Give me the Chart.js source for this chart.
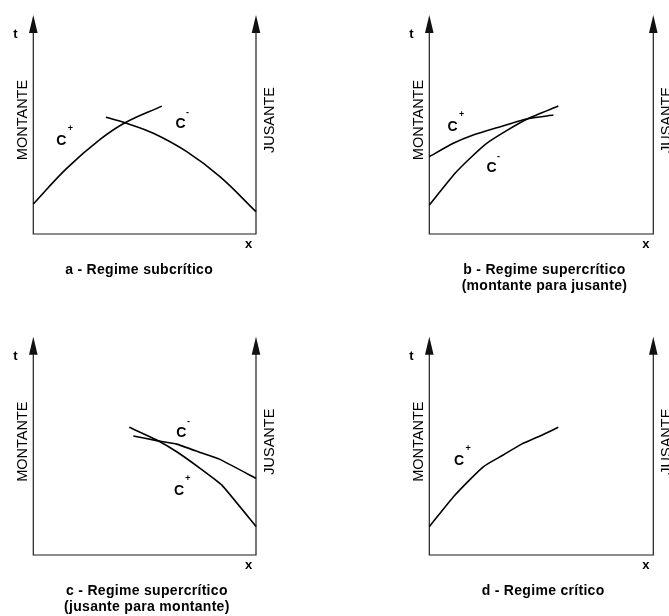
<!DOCTYPE html>
<html>
<head>
<meta charset="utf-8">
<script src="https://cdn.jsdelivr.net/npm/chart.js@4.4.0/dist/chart.umd.min.js"></script>
<style>
  html, body { margin: 0; padding: 0; background: #fff; overflow: hidden; }
  #wrap { position: relative; width: 669px; height: 616px; }
  #wrap canvas { position: absolute; }
</style>
</head>
<body>
<div id="wrap">
  <canvas id="pa" width="334" height="308" style="left:0;top:0"></canvas>
  <canvas id="pb" width="334" height="308" style="left:335px;top:0"></canvas>
  <canvas id="pc" width="334" height="308" style="left:0;top:308px"></canvas>
  <canvas id="pd" width="334" height="308" style="left:335px;top:308px"></canvas>
</div>
<script>
// Characteristic lines in the (x, t) plane; both axes run 0..10 (arbitrary units).
// a - subcritical
const aCplusX  = [0, 1.5, 3.0, 4.12, 5.77];
const aCplusT  = [1.37, 3.0, 4.32, 5.08, 5.84];
const aCminusX = [3.26, 4.12, 5.39, 6.89, 8.38, 10.0];
const aCminusT = [5.33, 5.08, 4.6, 3.76, 2.62, 1.02];
// b - supercritical, upstream to downstream
const bCplusX  = [0, 1.07, 1.96, 3.01, 4.35, 5.54];
const bCplusT  = [3.53, 4.14, 4.52, 4.85, 5.25, 5.43];
const bCminusX = [0, 1.15, 1.82, 2.56, 3.45, 4.35, 5.76];
const bCminusT = [1.32, 2.77, 3.46, 4.14, 4.72, 5.24, 5.84];
// c - supercritical, downstream to upstream
const cCplusX  = [4.31, 5.54, 6.44, 7.49, 8.46, 10.0];
const cCplusT  = [5.85, 5.27, 4.73, 3.97, 3.21, 1.31];
const cCminusX = [4.49, 5.54, 6.44, 7.49, 8.38, 10.0];
const cCminusT = [5.45, 5.24, 5.08, 4.70, 4.38, 3.51];
// d - critical
const dCplusX  = [0, 1.15, 2.41, 3.3, 4.12, 4.94, 5.76];
const dCplusT  = [1.30, 2.75, 4.04, 4.58, 5.08, 5.45, 5.85];

const FONT = '"Liberation Sans", Arial, Helvetica, sans-serif';

function pts(xs, ts) { return xs.map((v, i) => ({ x: v, y: ts[i] })); }

// Draws the boundary axes with arrows, the side labels, curve labels and caption.
const framePlugin = {
  id: 'frame',
  beforeDatasetsDraw(chart, args, o) {
    const { ctx, scales: { x, y } } = chart;
    const x0 = x.getPixelForValue(0), x1 = x.getPixelForValue(10);
    const y0 = y.getPixelForValue(0), yTop = y.getPixelForValue(10);
    ctx.save();
    ctx.strokeStyle = '#1c1c1c';
    ctx.fillStyle = '#111';
    ctx.lineWidth = 1.2;
    ctx.beginPath();
    ctx.moveTo(x0, yTop + 12); ctx.lineTo(x0, y0); ctx.lineTo(x1, y0); ctx.lineTo(x1, yTop + 12);
    ctx.stroke();
    [x0, x1].forEach(px => {
      ctx.beginPath();
      ctx.moveTo(px, yTop);
      ctx.lineTo(px - 4.3, yTop + 18);
      ctx.lineTo(px + 4.3, yTop + 18);
      ctx.closePath();
      ctx.fill();
    });

    // axis letters
    ctx.fillStyle = '#000';
    ctx.font = 'bold 13px ' + FONT;
    ctx.textAlign = 'center';
    ctx.textBaseline = 'alphabetic';
    ctx.fillText('t', x0 - 18, yTop + 23);
    ctx.fillText('x', x1 - 7.5, y0 + 14);

    // side labels
    ctx.font = '14.5px ' + FONT;
    ctx.textBaseline = 'middle';
    ctx.save();
    ctx.translate(x0 - 11, yTop + 105);
    ctx.rotate(-Math.PI / 2);
    ctx.fillText('MONTANTE', 0, 1);
    ctx.restore();
    ctx.save();
    ctx.translate(x1 + 12.5, yTop + 105);
    ctx.rotate(-Math.PI / 2);
    ctx.fillText('JUSANTE', 0, 1);
    ctx.restore();

    // curve labels
    ctx.textBaseline = 'alphabetic';
    (o.labels || []).forEach(l => {
      const cx = x.getPixelForValue(l.x), cy = y.getPixelForValue(l.y);
      ctx.font = 'bold 14px ' + FONT;
      ctx.textAlign = 'center';
      ctx.fillText('C', cx, cy + 5);
      ctx.font = 'bold 9px ' + FONT;
      if (l.s === '+') ctx.fillText('+', cx + 9, cy - 9);
      else ctx.fillText('-', cx + 7, cy - 8);
    });

    // caption
    ctx.font = 'bold 14px ' + FONT;
    ctx.textAlign = 'center';
    if ('letterSpacing' in ctx) ctx.letterSpacing = '0.3px';
    const tx = x.getPixelForValue(o.titleX);
    o.title.forEach((line, i) => ctx.fillText(line, tx, y0 + 39.5 + i * 16.3));
    ctx.restore();
  }
};

function makePanel(id, pad, tension, series, frame) {
  new Chart(document.getElementById(id), {
    type: 'scatter',
    data: {
      datasets: series.map(s => ({
        data: s,
        showLine: true,
        pointRadius: 0,
        borderColor: '#000',
        borderWidth: 1.6,
        tension: tension,
        clip: false
      }))
    },
    options: {
      responsive: false,
      devicePixelRatio: 1,
      animation: false,
      layout: { padding: pad },
      scales: {
        x: { type: 'linear', min: 0, max: 10, display: false },
        y: { type: 'linear', min: 0, max: 10, display: false }
      },
      plugins: { legend: { display: false }, tooltip: { enabled: false }, frame: frame }
    },
    plugins: [framePlugin]
  });
}

makePanel('pa', { left: 33.3, right: 78, top: 15, bottom: 74 }, 0.4,
  [pts(aCplusX, aCplusT), pts(aCminusX, aCminusT)],
  { title: ['a - Regime subcrítico'], titleX: 4.75,
    labels: [{ s: '+', x: 1.26, y: 4.31 }, { s: '-', x: 6.61, y: 5.06 }] });

makePanel('pb', { left: 94.3, right: 15.7, top: 15, bottom: 74 }, 0.2,
  [pts(bCplusX, bCplusT), pts(bCminusX, bCminusT)],
  { title: ['b - Regime supercrítico', '(montante para jusante)'], titleX: 5.14,
    labels: [{ s: '+', x: 1.04, y: 4.93 }, { s: '-', x: 2.78, y: 3.04 }] });

makePanel('pc', { left: 33.3, right: 78, top: 28.7, bottom: 61 }, 0.1,
  [pts(cCplusX, cCplusT), pts(cCminusX, cCminusT)],
  { title: ['c - Regime supercrítico', '(jusante para montante)'], titleX: 5.1,
    labels: [{ s: '-', x: 6.65, y: 5.63 }, { s: '+', x: 6.54, y: 2.98 }] });

makePanel('pd', { left: 94.3, right: 15.7, top: 28.7, bottom: 61 }, 0.2,
  [pts(dCplusX, dCplusT)],
  { title: ['d - Regime crítico'], titleX: 5.08,
    labels: [{ s: '+', x: 1.33, y: 4.35 }] });
</script>
</body>
</html>
